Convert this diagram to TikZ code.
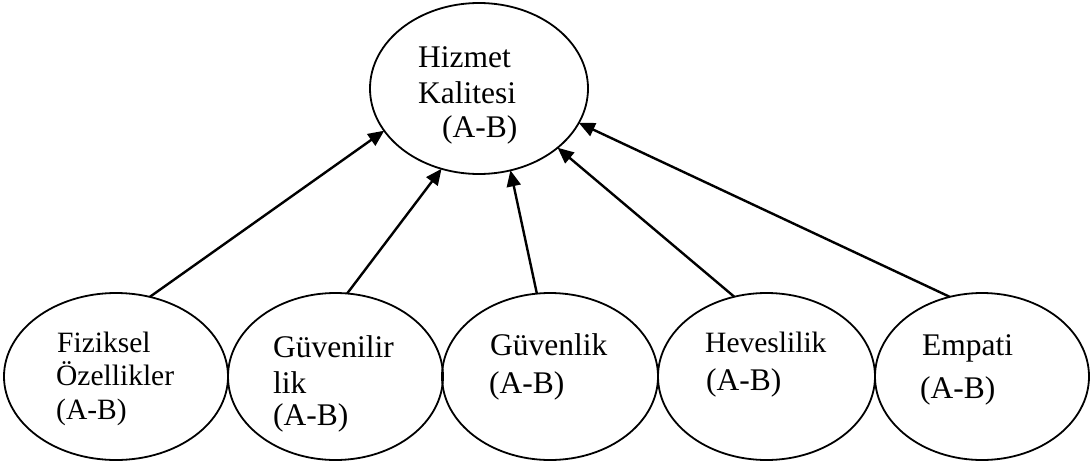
\documentclass[tikz,border=0pt]{standalone}
\usepackage{fontspec}
\setmainfont{Liberation Serif}
\usetikzlibrary{shapes.geometric,arrows.meta}
\begin{document}
\begin{tikzpicture}[x=1pt,y=-1pt,
  oval/.style={ellipse,draw,line width=1.8pt,inner sep=0pt,outer sep=0pt},
  lbl/.style={anchor=base west,inner sep=0pt,font=\fontsize{31.5}{36}\selectfont},
  lblsm/.style={lbl,font=\fontsize{29.5}{34}\selectfont},
  link/.style={line width=2.4pt,-{Triangle[length=16pt,width=14pt]}}]
\useasboundingbox (0,0) rectangle (1090,463);

% central construct
\node[oval,minimum width=218pt,minimum height=171pt] (kal) at (479,88.5) {};
\node[lbl] (kal1) at (418,67) {Hizmet};
\node[lbl] (kal2) at (418,103) {Kalitesi};
\node[lbl] (kal3) at (442,137) {(A-B)};

% the five dimensions
\node[oval,minimum width=224pt,minimum height=167pt] (fiz) at (116,376.5) {};
\node[oval,minimum width=215pt,minimum height=167pt] (guv) at (335.5,376.5) {};
\node[oval,minimum width=216pt,minimum height=167pt] (gvn) at (550,376.5) {};
\node[oval,minimum width=217pt,minimum height=167pt] (hev) at (766.5,376.5) {};
\node[oval,minimum width=214pt,minimum height=167pt] (emp) at (982,376.5) {};

\node[lblsm] (fiz1) at (57,352) {Fiziksel};
\node[lblsm] (fiz2) at (56,385) {Özellikler};
\node[lblsm] (fiz3) at (56,419) {(A-B)};

\node[lbl] (guv1) at (273,357) {Güvenilir};
\node[lbl] (guv2) at (273,393) {lik};
\node[lbl] (guv3) at (273,425) {(A-B)};

\node[lbl] (gvn1) at (490,355) {Güvenlik};
\node[lbl] (gvn2) at (489,393) {(A-B)};

\node[lblsm] (hev1) at (705,352) {Heveslilik};
\node[lbl] (hev2) at (706,390) {(A-B)};

\node[lbl] (emp1) at (922,355) {Empati};
\node[lbl] (emp2) at (920,398) {(A-B)};

% influence arrows
\draw[link] (fiz.67) -- (kal.204);
\draw[link] (guv.82) -- (kal.245.5);
\draw[link] (gvn.99) -- (kal.291.5);
\draw[link] (hev.112.4) -- (kal.323.8);
\draw[link] (emp.112.2) -- (kal.341);
\end{tikzpicture}
\end{document}
